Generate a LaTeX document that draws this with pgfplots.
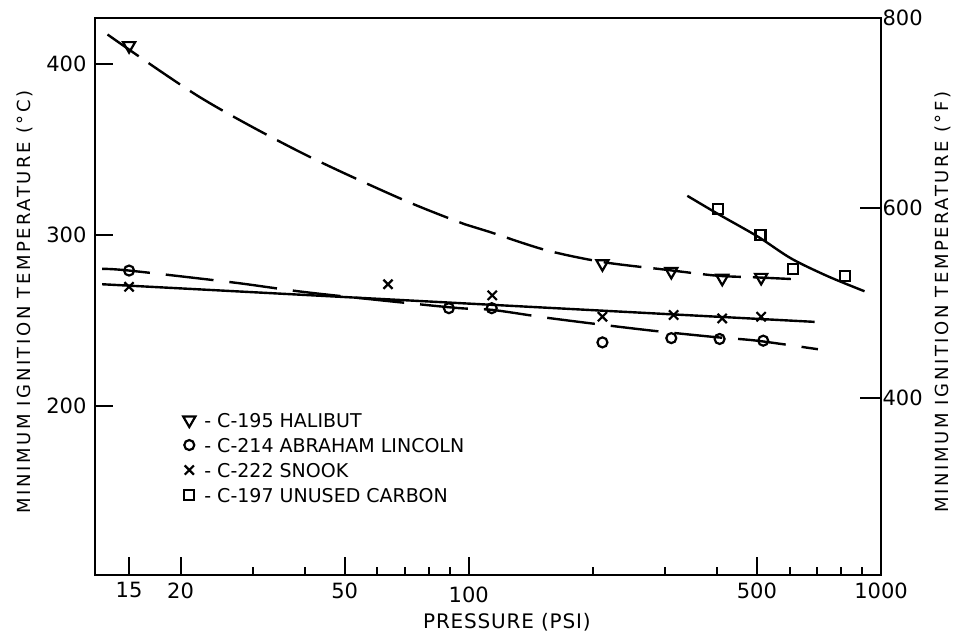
\documentclass[border=0pt]{standalone}
\usepackage{fontspec}
\setmainfont{DejaVu Sans}
\newfontfamily\lsfont[LetterSpace=14.0]{DejaVu Sans}
\newfontfamily\xlsfont[LetterSpace=4.0]{DejaVu Sans}
\usepackage{pgfplots}
\pgfplotsset{compat=1.18}
\begin{document}
\begin{tikzpicture}[x=1pt,y=1pt]
\useasboundingbox (-95pt,-62pt) rectangle (861pt,575pt);
\begin{axis}[
  at={(0pt,0pt)}, anchor=south west, scale only axis,
  width=786pt, height=557pt,
  xmode=log, xmin=12.4, xmax=1000, ymin=101, ymax=426.67,
  axis line style={line width=2.2pt},
  xtick={15,20,50,500,1000}, xticklabels={15,20,50,500,1000},
  extra x ticks={100}, extra x tick labels={100},
  extra x tick style={tick align=inside, major tick length=18pt, xticklabel style={yshift=-4pt}},
  minor xtick={30,40,60,70,80,90,200,300,400,600,700,800,900},
  ytick={200,300,400}, yticklabels={200,300,400},
  xtick pos=bottom, ytick pos=left,
  tick align=inside,
  major tick length=18pt, minor tick length=8pt,
  every tick/.style={line width=2pt, black},
  tick label style={font=\fontsize{21}{22}\selectfont},
  xticklabel style={yshift=-4pt},
  yticklabel style={xshift=-5pt},
  xlabel={\xlsfont PRESSURE (PSI)},
  xlabel style={at={(axis description cs:0.524,-0.085)}, anchor=center, font=\fontsize{20}{22}\selectfont},
  ylabel={\lsfont MINIMUM IGNITION TEMPERATURE (°C)},
  ylabel style={at={(axis description cs:-0.089,0.49)}, anchor=center, font=\fontsize{18}{20}\selectfont},
  every axis plot/.append style={line width=2.4pt, black},
  legend style={at={(axis description cs:0.112,0.292)}, anchor=north west, draw=none, fill=none, inner sep=0pt, row sep=9pt, column sep=8pt, font=\fontsize{19}{20}\selectfont, nodes={inner sep=1pt, text height=14pt, text depth=0pt}},
  legend cell align=left,
  legend image code/.code={\draw[#1] plot coordinates {(5pt,0.5pt)};},
]
% fitted curves
\addplot[dash pattern=on 38pt off 12pt, smooth, forget plot] coordinates {
 (13.3,417) (22.4,380) (39.2,348) (68.4,321) (98,306) (112,301.7) (153.6,291) (211,284) (300,279.5) (400,276) (500,275) (612,274)};
\addplot[dash pattern=on 48pt off 16pt, smooth, forget plot] coordinates {
 (12.9,280) (15,279) (26.9,272) (41.4,266) (90,257.5) (114,256) (153.6,251.5) (216,247) (285,243.6) (400,240) (500,238) (703,233)};
\addplot[forget plot] coordinates {(12.9,271) (690,249)};
\addplot[smooth, forget plot] coordinates {
 (339,322.7) (403,312) (503,298.8) (606,286) (744,275.6) (912,266.9)};
% data points
\addplot[only marks, mark=triangle, mark size=7pt, mark options={rotate=180, line width=2.2pt, fill=white}] coordinates {
 (15,410.5) (211,283) (310,278.5) (412,274.5) (512,275)};
\addlegendentry{- C-195 HALIBUT}
\addplot[only marks, mark=o, mark size=5pt, mark options={line width=2.2pt, fill=white}] coordinates {
 (15,279) (89.5,257) (113.7,257) (211,237) (310,239.5) (406,239) (518,238)};
\addlegendentry{- C-214 ABRAHAM LINCOLN}
\addplot[only marks, mark=x, mark size=6.5pt, mark options={line width=2.2pt}] coordinates {
 (15,269.5) (63.7,271) (114,264.5) (211,252) (314,253) (412,251) (512,252)};
\addlegendentry{- C-222 SNOOK}
\addplot[only marks, mark=square, mark size=5pt, mark options={line width=2.2pt, fill=white}] coordinates {
 (403,315) (510,300) (612,280) (818,276)};
\addlegendentry{- C-197 UNUSED CARBON}
\end{axis}
\begin{axis}[
  at={(0pt,0pt)}, anchor=south west, scale only axis,
  width=786pt, height=557pt,
  xmode=log, xmin=12.4, xmax=1000, ymin=213.8, ymax=800,
  axis x line=none, axis y line*=right,
  axis line style={line width=2.2pt},
  ytick={400,600,800}, yticklabels={400,600,800},
  tick align=inside, major tick length=21pt,
  every tick/.style={line width=2pt, black},
  tick label style={font=\fontsize{21}{22}\selectfont},
  yticklabel style={xshift=-2pt},
  ylabel={\lsfont MINIMUM IGNITION TEMPERATURE (°F)},
  ylabel style={at={(axis description cs:1.079,0.49)}, anchor=center, rotate=0, font=\fontsize{18}{20}\selectfont},
]
\end{axis}
\end{tikzpicture}
\end{document}
